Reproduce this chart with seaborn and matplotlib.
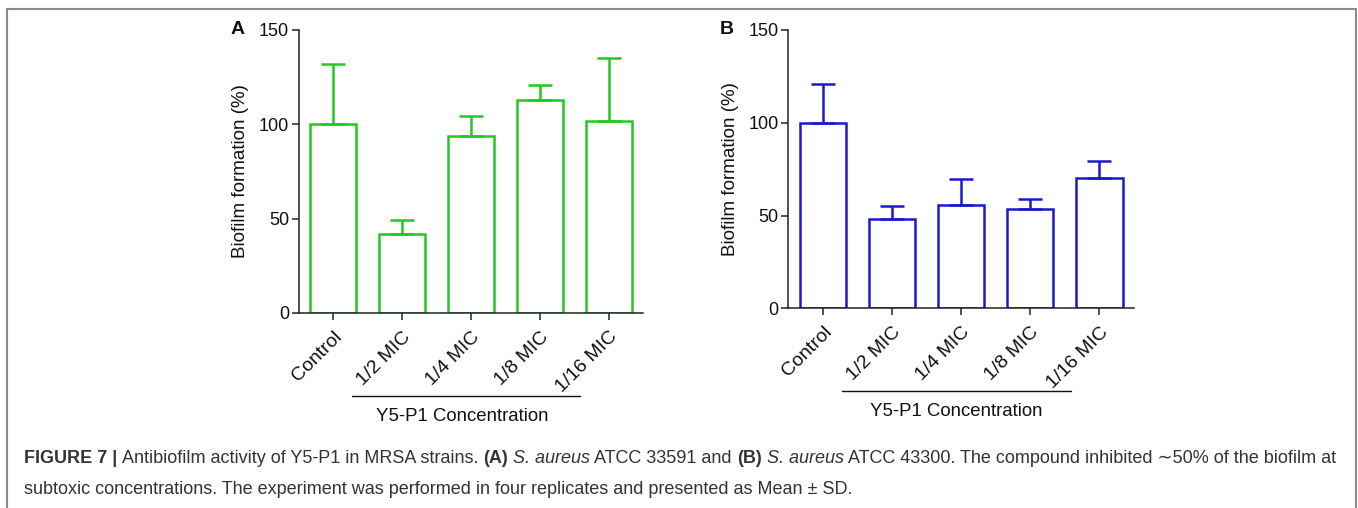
import numpy as np
import matplotlib
matplotlib.use("Agg")
import matplotlib.pyplot as plt
import seaborn as sns

# data (mean and SD, % of control)
groups = ["Control", "1/2 MIC", "1/4 MIC", "1/8 MIC", "1/16 MIC"]
mean_a = [100, 42, 94, 113, 102]
sd_a = [32, 7, 10.5, 8, 33]
mean_b = [100, 48, 55.5, 53.5, 70]
sd_b = [21, 7, 14, 5.5, 9.5]
yticks = [0, 50, 100, 150]

green = "#22c822"
blue = "#1a1acc"

sns.set_style("ticks")
plt.rcParams["font.family"] = ["Liberation Sans", "DejaVu Sans"]

fig = plt.figure(figsize=(13.58, 5.08), dpi=100)
ax_a = fig.add_axes([0.22, 0.384, 0.2535, 0.557])
ax_b = fig.add_axes([0.5805, 0.393, 0.2545, 0.548])


def draw_panel(ax, means, sds, color, letter, line_y, text_x):
    sns.barplot(x=groups, y=means, order=groups, fill=False, color=color,
                linewidth=1.8, width=0.67, errorbar=None, ax=ax)
    for p in ax.patches:
        p.set_edgecolor(color)
    ax.errorbar(range(len(groups)), means, yerr=[np.zeros(len(sds)), sds],
                fmt="none", ecolor=color, elinewidth=1.8, capsize=8.5,
                capthick=1.8)
    ax.set_ylim(0, 150)
    ax.set_xlim(-0.5, 4.5)
    ax.set_yticks(yticks)
    ax.set_yticklabels([str(t) for t in yticks], fontsize=13)
    ax.set_xticks(range(len(groups)))
    ax.set_xticklabels(groups, rotation=45, ha="right", rotation_mode="anchor",
                       fontsize=14)
    ax.tick_params(axis="both", direction="out", length=5, width=1.1,
                   color="#222222", labelcolor="#111111")
    ax.tick_params(axis="x", pad=6)
    ax.tick_params(axis="y", pad=2)
    sns.despine(ax=ax)
    for s in ["left", "bottom"]:
        ax.spines[s].set_linewidth(1.1)
        ax.spines[s].set_color("#222222")
    ax.set_ylabel("Biofilm formation (%)", fontsize=13.5, labelpad=7,
                  color="#111111")
    ax.set_xlabel("")
    trans = ax.get_xaxis_transform()
    ax.plot([0.28, 3.59], [line_y, line_y], color="#111111", lw=1,
            transform=trans, clip_on=False)
    ax.text(text_x, line_y - 0.075, "Y5-P1 Concentration", ha="center",
            va="center", fontsize=13.4, color="#111111", transform=trans)
    ax.text(-0.178, 1.0, letter, transform=ax.transAxes, fontsize=14,
            fontweight="bold", ha="center", va="center", color="#111111")


draw_panel(ax_a, mean_a, sd_a, green, "A", -0.292, 1.88)
draw_panel(ax_b, mean_b, sd_b, blue, "B", -0.297, 1.93)

# frame around the figure
fig.add_artist(plt.Rectangle((7 / 1358, -0.1), 1349 / 1358, 1.1 - 9 / 508,
                             transform=fig.transFigure, fill=False,
                             edgecolor="#8a8a8a", lw=1.5))

# caption with mixed bold / italic pieces
cap_col = "#333333"
cap_fs = 13
line1 = [
    ("FIGURE 7 | ", "bold", "normal"),
    ("Antibiofilm activity of Y5-P1 in MRSA strains. ", "normal", "normal"),
    ("(A)", "bold", "normal"),
    (" ", "normal", "normal"),
    ("S. aureus", "normal", "italic"),
    (" ATCC 33591 and ", "normal", "normal"),
    ("(B)", "bold", "normal"),
    (" ", "normal", "normal"),
    ("S. aureus", "normal", "italic"),
    (" ATCC 43300. The compound inhibited \u223c50% of the biofilm at", "normal", "normal"),
]
line2 = [
    ("subtoxic concentrations. The experiment was performed in four replicates "
     "and presented as Mean \u00b1 SD.", "normal", "normal"),
]


def caption_line(parts, y):
    prev = None
    for txt, w, st in parts:
        if prev is None:
            prev = fig.text(24 / 1358, y, txt, fontsize=cap_fs, fontweight=w,
                            fontstyle=st, color=cap_col, ha="left", va="bottom")
        else:
            prev = plt.annotate(txt, xy=(1, 0), xycoords=prev, ha="left",
                                va="bottom", fontsize=cap_fs, fontweight=w,
                                fontstyle=st, color=cap_col,
                                annotation_clip=False)


caption_line(line1, 1 - 467 / 508)
caption_line(line2, 1 - 498 / 508)

fig.savefig("out.png", dpi=100)
